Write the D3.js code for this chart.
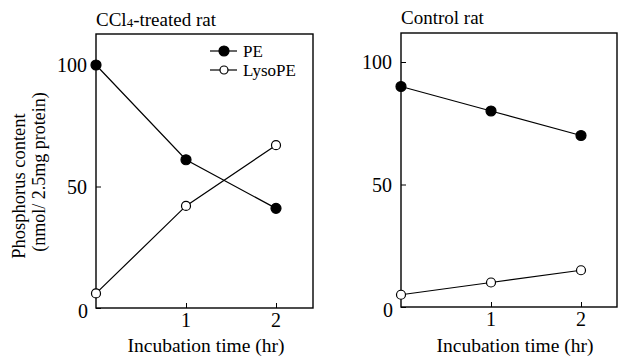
<!DOCTYPE html>
<html>
<head>
<meta charset="utf-8">
<script src="https://cdn.jsdelivr.net/npm/d3@7"></script>
<style>
  body { margin: 0; background: #fff; }
  text { font-family: "Liberation Serif", "Times New Roman", serif; fill: #000; }
</style>
</head>
<body>
<script>
const hours = [0, 1, 2]
const yTicks = [0, 50, 100]
const xTicks = [1, 2]
const seriesNames = ["PE", "LysoPE"]

const ccl4PE = [100, 61, 41]
const ccl4LysoPE = [6, 42, 67]
const controlPE = [90, 80, 70]
const controlLysoPE = [5, 10, 15]

const svg = d3.select("body")
              .append("svg")
              .attr("width", 621)
              .attr("height", 359)

const panels = [
  { title: ["CCl", "4", "-treated rat"], titleY: 26, left: 96, right: 313, top: 34, bottom: 308, y100: 65, xLabelX: 206, pe: ccl4PE, lyso: ccl4LysoPE, legend: true },
  { title: ["Control rat"], titleY: 24, left: 401, right: 617, top: 33, bottom: 307, y100: 62, xLabelX: 515, pe: controlPE, lyso: controlLysoPE, legend: false }
]

panels.forEach(p => {
  const x = d3.scaleLinear().domain([0, 1]).range([p.left, p.left + 90])
  const y = d3.scaleLinear().domain([0, 100]).range([p.bottom, p.y100])
  const g = svg.append("g")

  // frame
  g.append("rect")
   .attr("x", p.left).attr("y", p.top)
   .attr("width", p.right - p.left).attr("height", p.bottom - p.top)
   .attr("fill", "none").attr("stroke", "#000").attr("stroke-width", 1.4)

  // y axis, ticks pointing inward
  const yAxis = d3.axisRight(y).tickValues(yTicks).tickSize(5).tickFormat("")
  g.append("g").attr("transform", `translate(${p.left},0)`).call(yAxis)
   .call(a => a.select(".domain").remove())
  g.selectAll(".ylab").data(yTicks).enter().append("text")
   .attr("x", d => p.left - (d === 0 ? 8 : 9))
   .attr("y", d => y(d) + (d === 0 ? 10 : 7))
   .attr("text-anchor", "end").attr("font-size", 20)
   .text(d => d)

  // x axis, ticks pointing inward
  const xAxis = d3.axisTop(x).tickValues(xTicks).tickSize(5).tickFormat("")
  g.append("g").attr("transform", `translate(0,${p.bottom})`).call(xAxis)
   .call(a => a.select(".domain").remove())
  g.selectAll(".xlab").data(xTicks).enter().append("text")
   .attr("x", d => x(d)).attr("y", p.bottom + 19)
   .attr("text-anchor", "middle").attr("font-size", 20)
   .text(d => d)

  g.append("text")
   .attr("x", p.xLabelX).attr("y", 352)
   .attr("text-anchor", "middle").attr("font-size", 19.5)
   .text("Incubation time (hr)")

  // panel title
  const t = g.append("text").attr("x", p.left).attr("y", p.titleY).attr("font-size", 19)
  t.append("tspan").text(p.title[0])
  if (p.title.length > 1) {
    t.append("tspan").attr("font-size", 13).attr("dy", 1).text(p.title[1])
    t.append("tspan").attr("dy", -1).text(p.title[2])
  }

  const line = d3.line().x((d, i) => x(hours[i])).y(d => y(d))
  ;[p.pe, p.lyso].forEach((vals, k) => {
    g.append("path").datum(vals).attr("d", line)
     .attr("fill", "none").attr("stroke", "#000").attr("stroke-width", 1.2)
    g.selectAll(null).data(vals).enter().append("circle")
     .attr("cx", (d, i) => x(hours[i])).attr("cy", d => y(d))
     .attr("r", k === 0 ? 5 : 4.5)
     .attr("fill", k === 0 ? "#000" : "#fff")
     .attr("stroke", "#000").attr("stroke-width", 1.2)
  })

  if (p.legend) {
    const lg = g.append("g")
    seriesNames.forEach((name, k) => {
      const ly = 51 + k * 19
      lg.append("line").attr("x1", 210).attr("x2", 237).attr("y1", ly).attr("y2", ly)
        .attr("stroke", "#000").attr("stroke-width", 1.2)
      lg.append("circle").attr("cx", 224).attr("cy", ly).attr("r", k === 0 ? 5 : 4)
        .attr("fill", k === 0 ? "#000" : "#fff").attr("stroke", "#000").attr("stroke-width", 1.2)
      lg.append("text").attr("x", 243).attr("y", ly + 6).attr("font-size", 17).text(name)
    })
  }
})

// shared y label
svg.append("text").attr("transform", "translate(25,186) rotate(-90)")
   .attr("text-anchor", "middle").attr("font-size", 18.5).text("Phosphorus content")
svg.append("text").attr("transform", "translate(45,172) rotate(-90)")
   .attr("text-anchor", "middle").attr("font-size", 18).text("(nmol/ 2.5mg protein)")
</script>
</body>
</html>
